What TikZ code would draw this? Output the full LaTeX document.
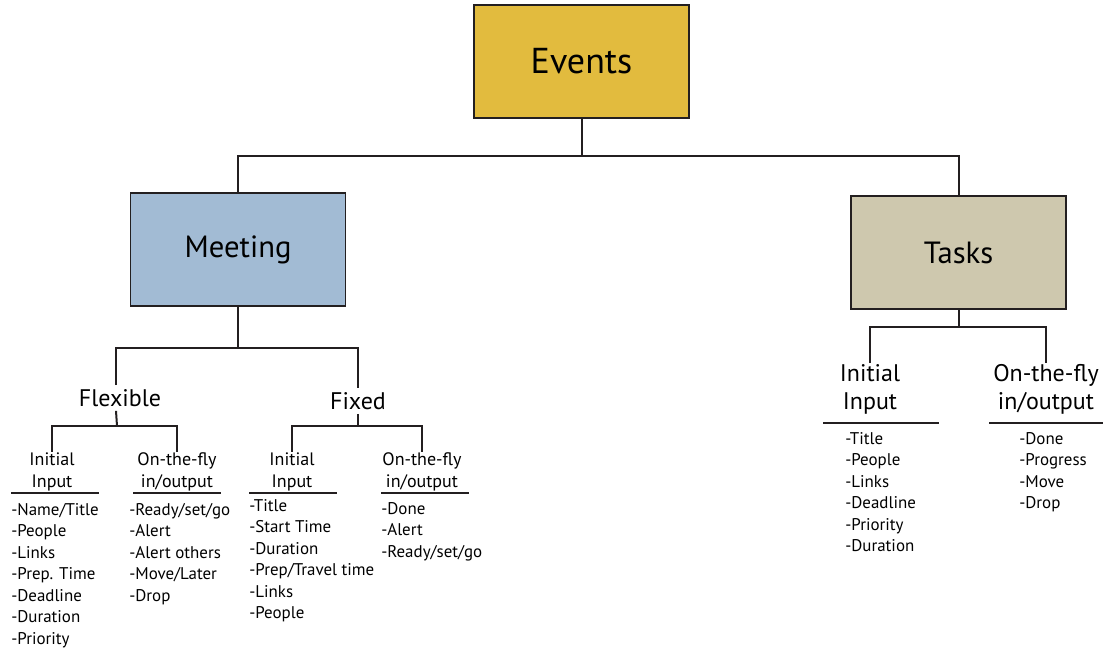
\documentclass[tikz,border=0pt]{standalone}
\usepackage{fontspec}
\setmainfont{PT Sans}
\usetikzlibrary{positioning}
\definecolor{eventsgold}{HTML}{E2BB3E}
\definecolor{meetblue}{HTML}{A2BBD4}
\definecolor{taskkhaki}{HTML}{CEC8AE}
\definecolor{boxline}{HTML}{231F20}
\tikzset{
  catbox/.style={draw=boxline, line width=1.1pt, minimum width=161pt, minimum height=85pt, inner sep=0pt},
  branch/.style={draw=boxline, line width=1.5pt},
  rule/.style={draw=boxline, line width=1.3pt},
  kind/.style={inner sep=3pt, font=\fontsize{18}{21}\selectfont},
  head/.style={inner sep=1pt, align=center, font=\fontsize{13.5}{16}\selectfont},
  bighead/.style={inner sep=1pt, align=center, font=\fontsize{18}{21}\selectfont},
  items/.style={inner sep=0pt, anchor=north west, align=left, font=\fontsize{12.7}{16.1}\selectfont}
}
\begin{document}
\begin{tikzpicture}[x=0.75pt,y=-0.75pt]
    \useasboundingbox (0,0) rectangle (1103,651);
    % top level
    \node[catbox, fill=eventsgold, font=\fontsize{27}{30}\selectfont] (events) at (581.5,61.5) {Events};
    \node[catbox, fill=meetblue, font=\fontsize{23}{26}\selectfont] (meeting) at (238,249.5) {Meeting};
    \node[catbox, fill=taskkhaki, font=\fontsize{23}{26}\selectfont] (tasks) at (958.5,252.5) {Tasks};
    \coordinate (evjoin) at (581.5,156);
    \draw[branch] (events.south) -- (evjoin);
    \draw[branch] (meeting.north) |- (evjoin) -| (tasks.north);
    % meeting kinds
    \node[kind] (flexible) at (120,398) {Flexible};
    \node[kind] (fixed) at (358,401) {Fixed};
    \coordinate (mtjoin) at (238,348);
    \draw[branch] (meeting.south) -- (mtjoin);
    \draw[branch] ([xshift=-3]flexible.north) |- (mtjoin) -| (fixed.north);
    % flexible
    \node[head] (flinit) at (52,472) {Initial\\Input};
    \node[head] (flfly) at (177,472) {On-the-fly\\in/output};
    \coordinate (fljoin) at (117,426);
    \draw[branch] ([xshift=-3]flexible.south) -- (fljoin);
    \draw[branch] (flinit.north) |- (fljoin) -| (flfly.north);
    \draw[rule] (11,493) -- (99,493);
    \draw[rule] (133,493) -- (221,493);
    \node[items] (flinitlist) at (11,503) {-Name/Title\\-People\\-Links\\-Prep. Time\\-Deadline\\-Duration\\-Priority};
    \node[items] (flflylist) at (129,503) {-Ready/set/go\\-Alert\\-Alert others\\-Move/Later\\-Drop};
    % fixed
    \node[head] (fxinit) at (292,472) {Initial\\Input};
    \node[head] (fxfly) at (422,472) {On-the-fly\\in/output};
    \coordinate (fxjoin) at (358,426);
    \draw[branch] (fixed.south) -- (fxjoin);
    \draw[branch] (fxinit.north) |- (fxjoin) -| (fxfly.north);
    \draw[rule] (249,493) -- (337,493);
    \draw[rule] (381,493) -- (469,493);
    \node[items] (fxinitlist) at (249,499) {-Title\\-Start Time\\-Duration\\-Prep/Travel time\\-Links\\-People};
    \node[items] (fxflylist) at (381,502) {-Done\\-Alert\\-Ready/set/go};
    % tasks
    \node[bighead] (tkinit) at (870,389.5) {Initial\\Input};
    \node[bighead] (tkfly) at (1046,389.5) {On-the-fly\\in/output};
    \coordinate (tkjoin) at (958.5,327);
    \draw[branch] (tasks.south) -- (tkjoin);
    \draw[branch] (tkinit.north) |- (tkjoin) -| (tkfly.north);
    \draw[rule] (823,423) -- (939,423);
    \draw[rule] (989,423) -- (1103,423);
    \node[items] (tkinitlist) at (845,432) {-Title\\-People\\-Links\\-Deadline\\-Priority\\-Duration};
    \node[items] (tkflylist) at (1019,432) {-Done\\-Progress\\-Move\\-Drop};
\end{tikzpicture}
\end{document}
